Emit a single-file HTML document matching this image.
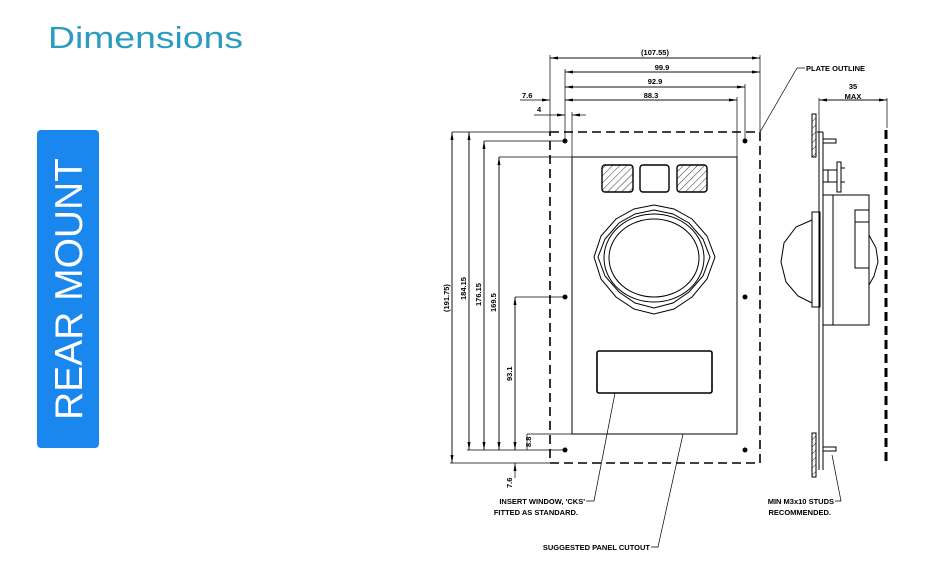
<!DOCTYPE html>
<html><head><meta charset="utf-8"><style>
html,body{margin:0;padding:0;background:#fff;}
svg{display:block;}
.t{font-family:"Liberation Sans",sans-serif;font-weight:bold;font-size:7.5px;fill:#000;}
</style></head><body>
<svg width="941" height="564" viewBox="0 0 941 564" xmlns="http://www.w3.org/2000/svg">
<defs>
<marker id="a" markerWidth="8" markerHeight="6" refX="8" refY="3" orient="auto" markerUnits="userSpaceOnUse"><path d="M0,1.5 L8,3 L0,4.5z" fill="#000"/></marker>
<pattern id="h" width="5" height="5" patternUnits="userSpaceOnUse" patternTransform="rotate(45)"><line x1="0" y1="0" x2="0" y2="5" stroke="#000" stroke-width="0.8"/></pattern>
</defs>
<text x="48" y="48" font-family="Liberation Sans, sans-serif" font-size="31" fill="#2a9cbf" textLength="195" lengthAdjust="spacingAndGlyphs">Dimensions</text>
<rect x="37" y="130" width="62" height="318" rx="4" fill="#1a87ef"/>
<text transform="translate(82,420) rotate(-90)" font-family="Liberation Sans, sans-serif" font-size="39" fill="#fff" textLength="262" lengthAdjust="spacingAndGlyphs">REAR MOUNT</text>

<g stroke="#000" fill="none" stroke-width="1">
<!-- plate outline dashed -->
<rect x="550" y="132" width="210" height="331" stroke-width="1.6" stroke-dasharray="9,5"/>
<!-- cutout -->
<rect x="572" y="157" width="165" height="277"/>
<!-- buttons -->
<rect x="602" y="165" width="31" height="27" rx="3" fill="url(#h)" stroke-width="1.4"/>
<rect x="640" y="165" width="29" height="27" rx="3" stroke-width="1.4"/>
<rect x="677" y="165" width="30" height="27" rx="3" fill="url(#h)" stroke-width="1.4"/>
<!-- trackball rings -->
<polygon points="654,205 674,209 692,219 707,236 715,257 707,279 692,297 674,309 654,314 634,309 616,297 601,279 594,257 601,236 616,219 634,209"/>
<polygon points="654,210 673,214 689,223 703,239 710,257 703,276 689,292 673,303 654,308 635,303 619,292 605,276 598,257 605,239 619,223 635,214"/>
<ellipse cx="654" cy="258" rx="50" ry="44"/>
<ellipse cx="654" cy="258" rx="45" ry="39"/>
<!-- insert window -->
<rect x="597" y="351" width="115" height="42" rx="2" stroke-width="1.6"/>
<!-- dims top -->
<line x1="550" y1="58" x2="760" y2="58" marker-end="url(#a)" stroke-width="0.7"/>
<line x1="760" y1="58" x2="550" y2="58" marker-end="url(#a)" stroke-width="0.7"/>
<line x1="565" y1="72" x2="760" y2="72" marker-end="url(#a)" stroke-width="0.7"/>
<line x1="760" y1="72" x2="565" y2="72" marker-end="url(#a)" stroke-width="0.7"/>
<line x1="565" y1="87" x2="745" y2="87" marker-end="url(#a)" stroke-width="0.7"/>
<line x1="745" y1="87" x2="565" y2="87" marker-end="url(#a)" stroke-width="0.7"/>
<line x1="565" y1="100" x2="737" y2="100" marker-end="url(#a)" stroke-width="0.7"/>
<line x1="737" y1="100" x2="565" y2="100" marker-end="url(#a)" stroke-width="0.7"/>
<g stroke-width="0.7">
<line x1="550" y1="55" x2="550" y2="132"/>
<line x1="760" y1="55" x2="760" y2="132"/>
<line x1="565" y1="69" x2="565" y2="141"/>
<line x1="745" y1="84" x2="745" y2="141"/>
<line x1="737" y1="97" x2="737" y2="157"/>
<line x1="572" y1="112" x2="572" y2="157"/>
<line x1="520" y1="100" x2="550" y2="100" marker-end="url(#a)"/>
<line x1="534" y1="115" x2="565" y2="115" marker-end="url(#a)"/>
<line x1="586" y1="115" x2="572" y2="115" marker-end="url(#a)"/>
<line x1="760" y1="132" x2="797" y2="68"/>
<line x1="797" y1="68" x2="805" y2="68"/>
<!-- left vertical dims -->
<line x1="452" y1="132" x2="550" y2="132"/>
<line x1="450" y1="463" x2="550" y2="463"/>
<line x1="484" y1="141" x2="565" y2="141"/>
<line x1="499" y1="157" x2="572" y2="157"/>
<line x1="515" y1="297" x2="565" y2="297"/>
<line x1="467" y1="450" x2="565" y2="450"/>
<line x1="527" y1="434" x2="572" y2="434"/>
<line x1="452" y1="463" x2="452" y2="132" marker-end="url(#a)"/>
<line x1="452" y1="132" x2="452" y2="463" marker-end="url(#a)"/>
<line x1="469" y1="450" x2="469" y2="132" marker-end="url(#a)"/>
<line x1="469" y1="132" x2="469" y2="450" marker-end="url(#a)"/>
<line x1="484" y1="450" x2="484" y2="141" marker-end="url(#a)"/>
<line x1="484" y1="141" x2="484" y2="450" marker-end="url(#a)"/>
<line x1="499" y1="450" x2="499" y2="157" marker-end="url(#a)"/>
<line x1="499" y1="157" x2="499" y2="450" marker-end="url(#a)"/>
<line x1="515" y1="450" x2="515" y2="297" marker-end="url(#a)"/>
<line x1="515" y1="297" x2="515" y2="450" marker-end="url(#a)"/>
<line x1="527" y1="434" x2="527" y2="450"/>
<line x1="515" y1="478" x2="515" y2="463" marker-end="url(#a)"/>
<!-- leaders -->
<polyline points="586,501 594,501 615,393"/>
<polyline points="651,547 658,547 683,434"/>
<polyline points="835,501 841,501 832,455"/>
<!-- side dim -->
<line x1="819" y1="100" x2="887" y2="100" marker-end="url(#a)"/>
<line x1="887" y1="100" x2="819" y2="100" marker-end="url(#a)"/>
<line x1="819" y1="98" x2="819" y2="132"/>
<line x1="887" y1="98" x2="887" y2="128"/>
</g>
<!-- side view -->
<rect x="812" y="114" width="4" height="43" fill="url(#h)"/>
<rect x="812" y="433" width="4" height="44" fill="url(#h)"/>
<line x1="819" y1="132" x2="819" y2="470"/>
<line x1="823" y1="132" x2="823" y2="470"/>
<line x1="817" y1="132" x2="823" y2="132"/>
<rect x="823" y="139" width="13" height="4"/>
<rect x="823" y="447" width="13" height="4"/>
<rect x="837" y="162" width="4" height="30"/>
<path d="M823,170 H837 M823,182 H837 M828,170 V182 M841,168 H845 M841,182 H845"/>
<rect x="823" y="195" width="46" height="130"/>
<line x1="833" y1="195" x2="833" y2="325"/>
<rect x="855" y="210" width="14" height="58"/>
<line x1="855" y1="222" x2="869" y2="222"/>
<rect x="812" y="212" width="8" height="95"/>
<path d="M812,220 L796,227 L784,243 L781,262 L786,282 L798,296 L812,303"/>
<path d="M869,235 L876,248 L878,262 L874,276 L869,285"/>
<line x1="886" y1="130" x2="886" y2="463" stroke-width="3" stroke-dasharray="9,5"/>
</g>
<!-- holes -->
<g fill="#000">
<circle cx="565" cy="141" r="2.5"/><circle cx="745" cy="141" r="2.5"/>
<circle cx="565" cy="297" r="2.5"/><circle cx="745" cy="297" r="2.5"/>
<circle cx="565" cy="450" r="2.5"/><circle cx="745" cy="450" r="2.5"/>
</g>
<!-- labels -->
<g class="t">
<text x="655" y="55" text-anchor="middle" class="t">(107.55)</text>
<text x="662" y="70" text-anchor="middle" class="t">99.9</text>
<text x="655" y="84" text-anchor="middle" class="t">92.9</text>
<text x="651" y="98" text-anchor="middle" class="t">88.3</text>
<text x="522" y="98" class="t">7.6</text>
<text x="537" y="112" class="t">4</text>
<text x="806" y="71" class="t">PLATE OUTLINE</text>
<text x="853" y="89" text-anchor="middle" class="t">35</text>
<text x="853" y="99" text-anchor="middle" class="t">MAX</text>
<text transform="translate(449,312) rotate(-90)" class="t">(191.75)</text>
<text transform="translate(466,300) rotate(-90)" class="t">184.15</text>
<text transform="translate(481,306) rotate(-90)" class="t">176.15</text>
<text transform="translate(496,312) rotate(-90)" class="t">169.5</text>
<text transform="translate(512,381) rotate(-90)" class="t">93.1</text>
<text transform="translate(531,447) rotate(-90)" class="t">8.8</text>
<text transform="translate(512,488) rotate(-90)" class="t">7.6</text>
<text x="585" y="504" text-anchor="end" class="t">INSERT WINDOW, 'CKS'</text>
<text x="578" y="515" text-anchor="end" class="t">FITTED AS STANDARD.</text>
<text x="650" y="550" text-anchor="end" class="t">SUGGESTED PANEL CUTOUT</text>
<text x="834" y="504" text-anchor="end" class="t">MIN M3x10 STUDS</text>
<text x="831" y="515" text-anchor="end" class="t">RECOMMENDED.</text>
</g>
</svg>
</body></html>
